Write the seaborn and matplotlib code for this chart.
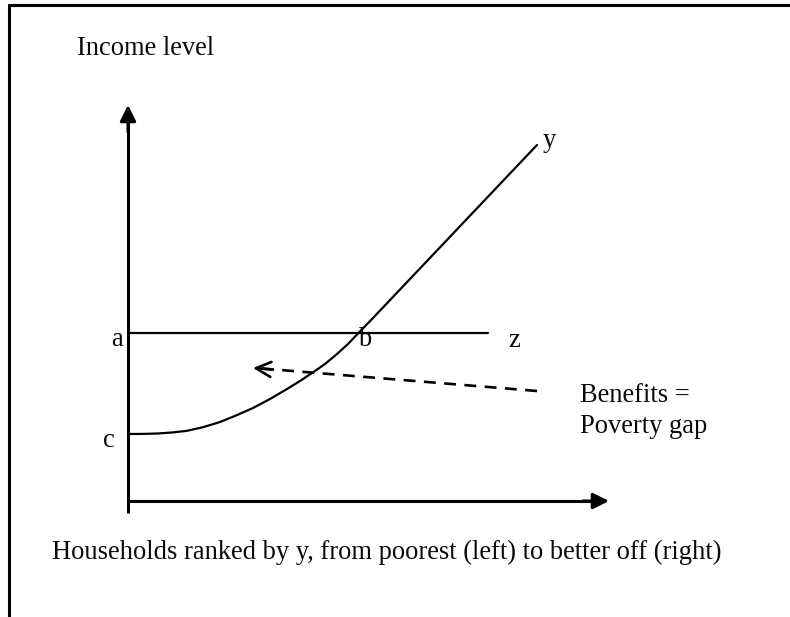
import numpy as np
import pandas as pd
import matplotlib
matplotlib.use("Agg")
import matplotlib.pyplot as plt
import seaborn as sns
from matplotlib.lines import Line2D

sns.set_theme(style="white")
plt.rcParams['font.family'] = ['Liberation Serif', 'DejaVu Serif']

# ---- data (schematic units: x = household rank, y = income) ----
rank = [0, 15, 30, 45, 59, 75, 92, 108, 125, 142, 159, 172, 184, 197,
        209, 220, 230, 245, 409]
income = [68, 68.1, 68.5, 69.6, 71.2, 74.8, 80, 86.5, 94, 103, 113, 121,
          129, 138, 148, 158, 168.5, 184, 357]
poverty_line = 169          # z
line_end = 360              # where line z ends
benefit_from = (409, 111)   # dashed arrow start
benefit_to = (125, 134)     # dashed arrow tip

curve = pd.DataFrame({"rank": rank, "income": income})
zline = pd.DataFrame({"rank": [0, line_end], "income": [poverty_line, poverty_line]})

fig = plt.figure(figsize=(7.9, 6.17), dpi=100)
ax = fig.add_axes([0, 0, 1, 1])
ax.set_xlim(-128, 662)
ax.set_ylim(-115, 502)
ax.axis("off")

# income curve y and poverty line z
sns.lineplot(data=curve, x="rank", y="income", ax=ax, color="black", lw=1.6,
             sort=False, estimator=None, solid_joinstyle="round")
sns.lineplot(data=zline, x="rank", y="income", ax=ax, color="black", lw=1.6,
             sort=False, estimator=None)

# axes with arrows
ax.plot([0, 0], [-11, 385], color="black", lw=2.2, solid_capstyle="butt")
ax.annotate("", xy=(0, 397), xytext=(0, 370),
            arrowprops=dict(arrowstyle="-|>,head_length=0.8,head_width=0.4",
                            color="black", lw=2.2, shrinkA=0, shrinkB=0))
ax.plot([0, 470], [1, 1], color="black", lw=2.2, solid_capstyle="butt")
ax.annotate("", xy=(481, 1), xytext=(455, 1),
            arrowprops=dict(arrowstyle="-|>,head_length=0.8,head_width=0.4",
                            color="black", lw=2.2, shrinkA=0, shrinkB=0))

# dashed benefits arrow
ax.plot([benefit_from[0], benefit_to[0] + 3], [benefit_from[1], benefit_to[1]],
        color="black", lw=1.9, dashes=(4.5, 3.2))
ax.annotate("", xy=benefit_to, xytext=(benefit_to[0] + 20, benefit_to[1] - 1.6),
            arrowprops=dict(arrowstyle="->,head_length=0.9,head_width=0.45",
                            color="black", lw=1.9, shrinkA=0, shrinkB=0))

fs = 19.1
kw = dict(fontsize=fs, color="#0a0a0a", va="baseline", ha="left")
ax.text(77 - 128, 502 - 55, "Income level", **kw)
ax.text(111 - 128, 502 - 346, "a", **kw)
ax.text(358 - 128, 502 - 346, "b", **kw)
ax.text(508 - 128, 502 - 347, "z", **kw)
ax.text(103 - 128, 502 - 447, "c", **kw)
ax.text(543 - 128, 502 - 147, "y", **kw)
ax.text(580 - 128, 502 - 402, "Benefits =", **kw)
ax.text(580 - 128, 502 - 433, "Poverty gap", **kw)
ax.text(52 - 128, 502 - 559,
        "Households ranked by y, from poorest (left) to better off (right)", **kw)

# frame lines (top and left)
fig.add_artist(Line2D([9 / 790, 1], [1 - 5 / 617, 1 - 5 / 617],
                      transform=fig.transFigure, color="black", lw=2.2))
fig.add_artist(Line2D([9 / 790, 9 / 790], [0, 1 - 5 / 617],
                      transform=fig.transFigure, color="black", lw=2.2))

fig.savefig("out.png", dpi=100, facecolor="white")
